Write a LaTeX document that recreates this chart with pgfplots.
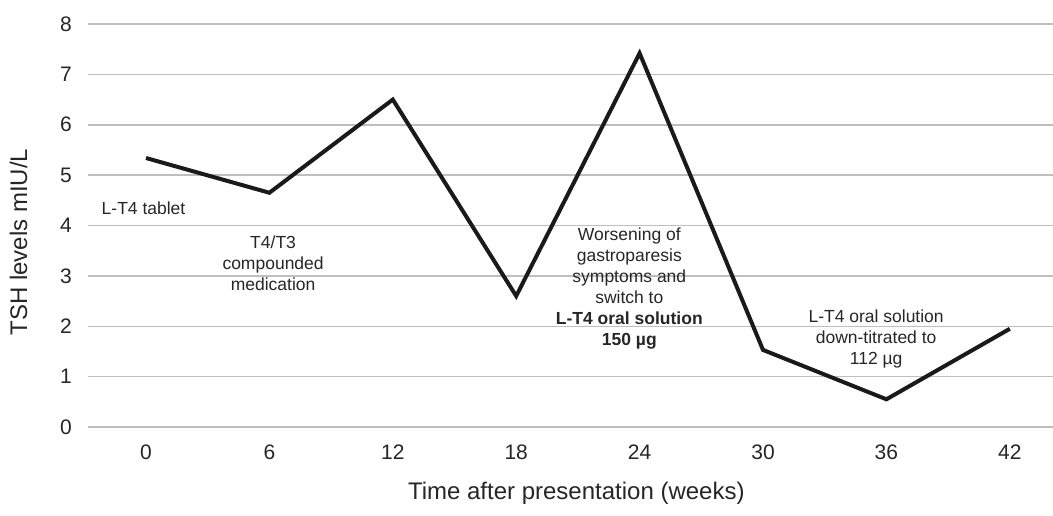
\documentclass[border=0pt]{standalone}
\usepackage{fontspec}
\setmainfont{Liberation Sans}
\usepackage{pgfplots}
\pgfplotsset{compat=1.18}
\definecolor{gridgray}{HTML}{BFBFBF}
\definecolor{txt}{HTML}{262626}
\definecolor{linecol}{HTML}{1A1A1A}
\begin{document}
\begin{tikzpicture}
\begin{axis}[
  at={(0,0)}, anchor=south west,
  scale only axis, width=965pt, height=403pt,
  xmin=-2.82, xmax=44.1, ymin=0, ymax=8,
  xtick={0,6,...,42}, ytick={0,...,8},
  axis line style={draw=none},
  major tick length=0pt,
  ymajorgrids, grid style={gridgray, line width=1.5pt},
  clip=false,
  /pgf/number format/assume math mode=true,
  tick label style={font=\fontsize{21}{25}\selectfont, text=txt, inner sep=0pt},
  xticklabel style={anchor=north, yshift=-18pt},
  yticklabel style={anchor=east, xshift=-16pt},
  xlabel={Time after presentation (weeks)},
  ylabel={TSH levels mIU/L},
  label style={font=\fontsize{24}{28}\selectfont, text=txt, inner sep=0pt},
  xlabel style={at={(axis description cs:0.506,-0.181)}, anchor=base},
  ylabel style={at={(axis description cs:-0.0632,0.459)}, anchor=base},
  every node near coord/.append style={font=\small},
]
\addplot[line width=4pt, color=linecol, mark=none]
  coordinates {(0,5.34) (6,4.65) (12,6.5) (18,2.6) (24,7.42) (30,1.53) (36,0.55) (42,1.95)};

\tikzset{ann/.style={anchor=north, align=center, inner sep=0pt, text=txt,
  font=\fontsize{17.5}{21}\selectfont}}
\node[ann] at (axis cs:-0.12,4.47) {L-T4 tablet};
\node[ann] at (axis cs:6.18,3.79) {T4/T3\\compounded\\medication};
\node[ann] at (axis cs:23.5,3.95) {Worsening of\\gastroparesis\\symptoms and\\switch to\\\textbf{L-T4 oral solution}\\\textbf{150 µg}};
\node[ann] at (axis cs:35.5,2.34) {L-T4 oral solution\\down-titrated to\\112 µg};
\end{axis}
\pgfresetboundingbox
\path (-88pt,-88pt) rectangle (965pt,427pt);
\end{tikzpicture}
\end{document}
